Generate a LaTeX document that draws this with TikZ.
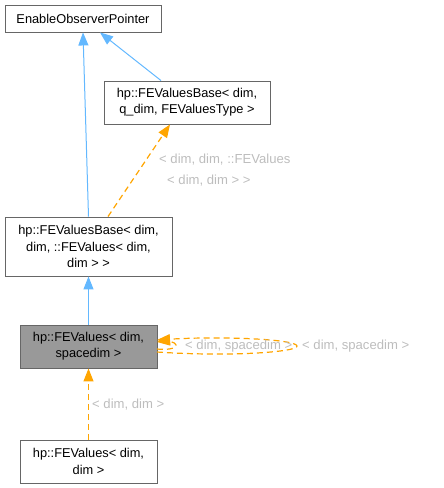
\documentclass[tikz,border=0pt]{standalone}
\usepackage{fontspec}
\setmainfont{Liberation Sans}
\usetikzlibrary{arrows.meta}
\definecolor{edgeblue}{HTML}{63B8FF}
\definecolor{edgeorange}{HTML}{FFA500}
\definecolor{lblgray}{HTML}{BDBDBD}
\definecolor{boxborder}{HTML}{666666}
\definecolor{boxfill}{HTML}{999999}
\tikzset{
  box/.style={draw=boxborder, line width=0.9pt, fill=white, align=center, inner sep=0pt,
    font=\fontsize{12.8}{16.3}\selectfont, text=black},
  inh/.style={draw=edgeblue, line width=1pt, -{Triangle[length=13pt,width=10pt]}},
  tmpl/.style={draw=edgeorange, line width=1.2pt, dash pattern=on 6pt off 4pt, -{Triangle[length=13pt,width=10pt]}},
  lbl/.style={text=lblgray, font=\fontsize{13.1}{15}\selectfont, inner sep=0pt, anchor=west}
}
\begin{document}
\begin{tikzpicture}[x=1pt,y=1pt]
\useasboundingbox (0,0) rectangle (444,-488);
\node[box, minimum width=156pt, minimum height=27pt] (n1) at (83,-18.5) {EnableObserverPointer};
\node[box, minimum width=166pt, minimum height=43pt] (n2) at (187,-102.5) {hp::FEValuesBase< dim,\\ q\_dim, FEValuesType >};
\node[box, minimum width=167pt, minimum height=59pt] (n3) at (88.5,-246.5) {hp::FEValuesBase< dim,\\dim, ::FEValues< dim,\\dim > >};
\node[box, fill=boxfill, minimum width=137pt, minimum height=43pt] (n4) at (88.5,-346.5) {hp::FEValues< dim,\\spacedim >};
\node[box, minimum width=137pt, minimum height=43pt] (n5) at (88.5,-461.5) {hp::FEValues< dim,\\dim >};

% inheritance edges
\draw[inh] (n3.north) -- (n1.south);
\draw[inh] ([xshift=-26pt]n2.north) -- ([xshift=17pt]n1.south);
\draw[inh] (n4.north) -- (n3.south);

% template edges
\draw[tmpl] ([xshift=19.5pt]n3.north) -- ([xshift=-17pt]n2.south);
\node[lbl] (l1) at (159,-160) {< dim, dim, ::FEValues};
\node[lbl] (l2) at (167,-181) {< dim, dim > >};

\draw[tmpl] (n5.north) -- (n4.south);
\node[lbl] (l3) at (92,-405) {< dim, dim >};

% self loops
\coordinate (a1) at (157,-352);
\coordinate (a2) at (297,-346);
\coordinate (a3) at (157,-340);
\draw[tmpl] (a1) .. controls (230,-357) and (298,-352) .. (a2) .. controls (296,-339) and (220,-336) .. (a3);
\coordinate (b1) at (157,-349);
\coordinate (b2) at (176,-345);
\coordinate (b3) at (157,-342);
\draw[tmpl] (b1) .. controls (166,-350) and (176,-349) .. (b2) .. controls (176,-342) and (166,-341) .. (b3);
\node[lbl] (l4) at (185,-346) {< dim, spacedim >};
\node[lbl] (l5) at (302,-346) {< dim, spacedim >};
\end{tikzpicture}
\end{document}
